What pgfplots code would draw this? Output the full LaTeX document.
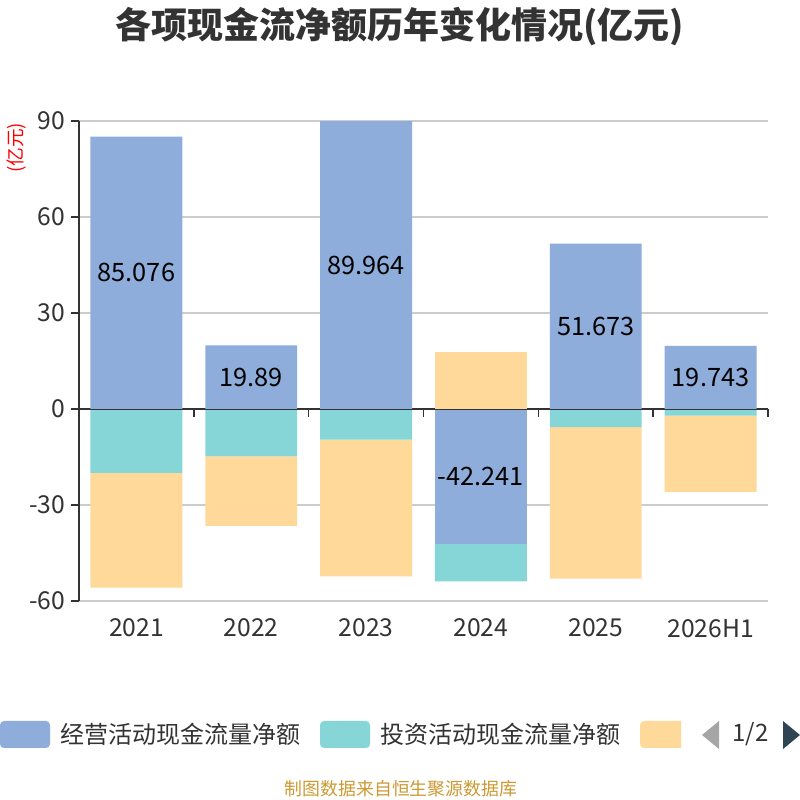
\documentclass[border=0pt]{standalone}
\usepackage{fontspec}
\setmainfont{Noto Sans CJK SC}
\usepackage{pgfplots}
\pgfplotsset{compat=1.18}
\definecolor{opc}{RGB}{142,173,219}
\definecolor{invc}{RGB}{135,214,215}
\definecolor{finc}{RGB}{254,217,153}
\definecolor{gridc}{RGB}{204,204,204}
\definecolor{axisc}{RGB}{51,51,51}
\definecolor{footc}{RGB}{204,153,51}
\definecolor{navc}{RGB}{47,69,84}
\pgfplotsset{
  base/.style={
    at={(59.25pt,149.25pt)}, anchor=south west,
    width=516.75pt, height=360pt, scale only axis,
    xmin=-0.5, xmax=5.5, ymin=-60, ymax=90,
    clip=false,
    /pgf/number format/assume math mode=true,
  },
}
\begin{document}
\begin{tikzpicture}
\useasboundingbox (0pt,0pt) rectangle (600pt,600pt);
\fill[white] (0pt,0pt) rectangle (600pt,600pt);
% negative stack + axis decorations
\begin{axis}[base,
  ybar stacked, bar width=0.8,
  axis x line*=bottom, axis y line*=left,
  x axis line style={draw=none},
  y axis line style={draw=axisc, line width=1.5pt},
  ytick={-60,-30,0,30,60,90},
  ymajorgrids, grid style={draw=gridc, line width=1pt},
  tick align=outside, major tick length=6pt,
  ytick style={draw=axisc, line width=1.2pt},
  xtick={0,1,2,3,4,5},
  xticklabels={2021,2022,2023,2024,2025,2026H1},
  xtick style={draw=none},
  tick label style={font=\fontsize{18.5}{18.5}\selectfont, text=axisc},
  xticklabel style={yshift=-4pt},
  yticklabel style={xshift=-1pt},
]
\draw[axisc, line width=1.5pt] (axis cs:-0.5,0) -- (axis cs:5.5,0);
\draw[axisc, line width=1.2pt] (axis cs:0.5,0) -- (axis cs:0.5,-2.5);
\draw[axisc, line width=1.2pt] (axis cs:1.5,0) -- (axis cs:1.5,-2.5);
\draw[axisc, line width=1.2pt] (axis cs:2.5,0) -- (axis cs:2.5,-2.5);
\draw[axisc, line width=1.2pt] (axis cs:3.5,0) -- (axis cs:3.5,-2.5);
\draw[axisc, line width=1.2pt] (axis cs:4.5,0) -- (axis cs:4.5,-2.5);
\draw[axisc, line width=1.2pt] (axis cs:5.5,0) -- (axis cs:5.5,-2.5);
\addplot[fill=opc, draw=none] coordinates {(0,0) (1,0) (2,0) (3,-42.241) (4,0) (5,0)};
\addplot[fill=invc, draw=none] coordinates {(0,-20.0) (1,-14.8) (2,-9.6) (3,-11.6) (4,-5.7) (5,-2.1)};
\addplot[fill=finc, draw=none] coordinates {(0,-35.8) (1,-21.7) (2,-42.7) (3,0) (4,-47.3) (5,-23.8)};
\end{axis}
% positive stack
\begin{axis}[base, hide axis, ybar stacked, bar width=0.8]
\addplot[fill=opc, draw=none] coordinates {(0,85.076) (1,19.89) (2,89.964) (3,0) (4,51.673) (5,19.743)};
\addplot[fill=finc, draw=none] coordinates {(0,0) (1,0) (2,0) (3,17.9) (4,0) (5,0)};
\end{axis}
% value labels
\begin{axis}[base, hide axis]
\addplot[draw=none, mark=none, nodes near coords, point meta=explicit symbolic,
  every node near coord/.style={font=\fontsize{19}{19}\selectfont, text=black, anchor=center}]
  coordinates {(0,42.538)[85.076] (1,9.945)[19.89] (2,44.982)[89.964] (3,-21.12)[-42.241] (4,25.837)[51.673] (5,9.872)[19.743]};
\end{axis}
\begin{scope}[x=0.75pt,y=0.75pt]
% title
\node[font=\fontsize{27}{27}\selectfont\bfseries, text=axisc] at (400,773) {各项现金流净额历年变化情况(亿元)};
% unit label
\node[rotate=90, font=\fontsize{14}{14}\selectfont, text=red] at (17,652) {(亿元)};
% legend
\fill[opc, rounded corners=3pt] (0,52) rectangle (50,79);
\node[anchor=west, inner sep=0pt, font=\fontsize{18}{18}\selectfont, text=axisc] at (60,65.5) {经营活动现金流量净额};
\fill[invc, rounded corners=3pt] (320,52) rectangle (370,79);
\node[anchor=west, inner sep=0pt, font=\fontsize{18}{18}\selectfont, text=axisc] at (380,65.5) {投资活动现金流量净额};
\begin{scope}
\clip (600,40) rectangle (681,90);
\fill[finc, rounded corners=3pt] (640,52) rectangle (700,79);
\end{scope}
\fill[gray!70] (702,65) -- (719,79) -- (719,51) -- cycle;
\node[font=\fontsize{18}{18}\selectfont, text=axisc] at (750.5,65.5) {1/2};
\fill[navc] (800,65) -- (783,79) -- (783,51) -- cycle;
% footer
\node[font=\fontsize{13.4}{13.4}\selectfont, text=footc] at (401,11) {制图数据来自恒生聚源数据库};
\end{scope}
\end{tikzpicture}
\end{document}
